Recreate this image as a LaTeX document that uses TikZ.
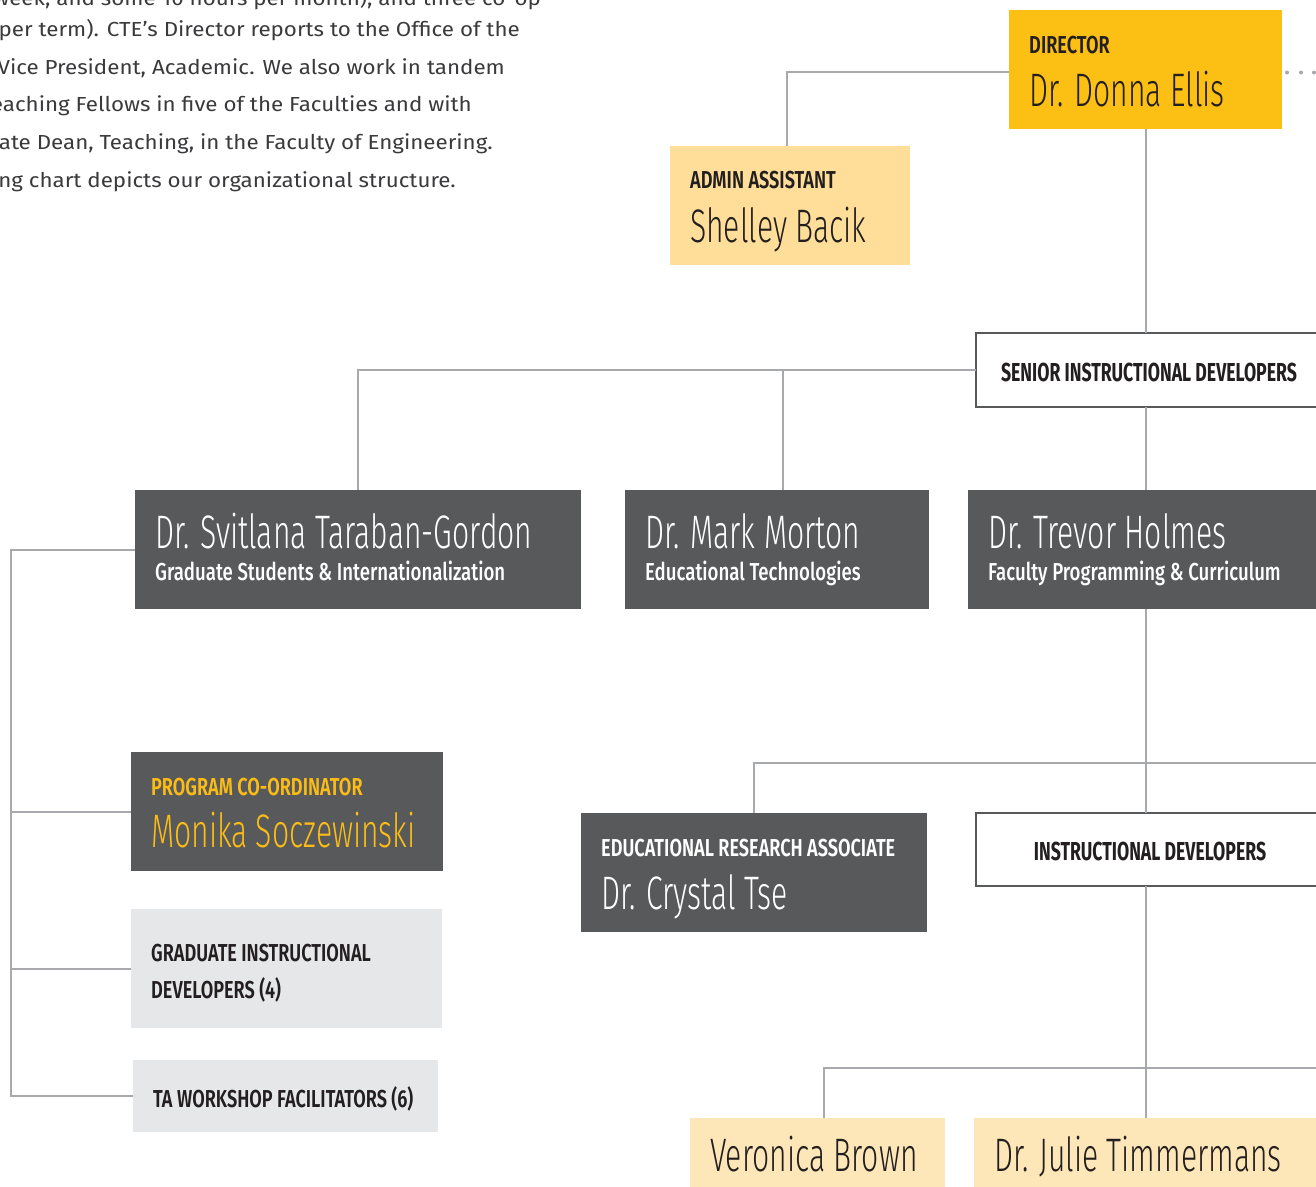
\documentclass[tikz,border=0pt]{standalone}
\usepackage{fontspec}
\setmainfont{Fira Sans}
\newfontfamily\bodyfont{Fira Sans}[FakeStretch=1.10]
\newfontfamily\lightf{Fira Sans Light}[FakeStretch=0.64]
\newfontfamily\boldf{Fira Sans}[FakeStretch=0.68]
\newfontfamily\labf{Fira Sans SemiBold}[FakeStretch=0.74]
\newfontfamily\subf{Fira Sans Medium}[FakeStretch=0.76]
\usetikzlibrary{calc}
\definecolor{cteyellow}{HTML}{FCBF14}
\definecolor{adminyellow}{HTML}{FEDE98}
\definecolor{paleyellow}{HTML}{FDE6B7}
\definecolor{dgray}{HTML}{58595B}
\definecolor{lgray}{HTML}{E6E7E8}
\definecolor{linegray}{HTML}{A7A9AC}
\definecolor{ink}{HTML}{231F20}
\definecolor{bodyink}{HTML}{3A3A3C}
\definecolor{coordyellow}{HTML}{FBBC15}
\tikzset{
  conn/.style={draw=linegray, line width=2pt},
  boxbase/.style={inner sep=0pt, outer sep=0pt, anchor=north west},
  darkbox/.style={boxbase, fill=dgray},
  yelbox/.style={boxbase, fill=cteyellow},
  admbox/.style={boxbase, fill=adminyellow},
  palebox/.style={boxbase, fill=paleyellow},
  greybox/.style={boxbase, fill=lgray},
  framebox/.style={boxbase, fill=white, draw=dgray, line width=2pt},
  tlabel/.style={inner sep=0pt, anchor=base west, font=\labf\fontsize{24.5}{26}\selectfont},
  tsub/.style={inner sep=0pt, anchor=base west, font=\subf\fontsize{24.5}{26}\selectfont},
  tname/.style={inner sep=0pt, anchor=base west, font=\lightf\fontsize{47}{50}\selectfont},
  thead/.style={inner sep=0pt, anchor=base, font=\boldf\bfseries\fontsize{26}{28}\selectfont, text=ink},
  body/.style={inner sep=0pt, anchor=base east, font=\bodyfont\fontsize{20.3}{24}\selectfont, text=bodyink}
}
\begin{document}
\begin{tikzpicture}[x=1pt,y=-1pt]
\useasboundingbox (0,0) rectangle (1316,1186);
\clip (0,0) rectangle (1316,1186);
\fill[white] (0,0) rectangle (1316,1186);

% intro text (cropped paragraph)
\node[body] (p1) at (541,5) {per week, and some 10 hours per month), and three co-op};
\node[body] (p2) at (520,36.5) {per term). CTE’s Director reports to the Office of the};
\node[body] (p3) at (505,74.2) {Vice President, Academic. We also work in tandem};
\node[body] (p4) at (472,111.8) {Teaching Fellows in five of the Faculties and with};
\node[body] (p5) at (493,149.4) {Associate Dean, Teaching, in the Faculty of Engineering.};
\node[body] (p6) at (456,187) {following chart depicts our organizational structure.};

% boxes
\node[yelbox, minimum width=273pt, minimum height=119pt] (dir) at (1009,10) {};
\node[admbox, minimum width=240pt, minimum height=119pt] (admin) at (670,146) {};
\node[framebox, minimum width=354pt, minimum height=74pt] (sen) at (976,333) {};
\node[darkbox, minimum width=446pt, minimum height=119pt] (svit) at (135,490) {};
\node[darkbox, minimum width=304pt, minimum height=119pt] (mark) at (625,490) {};
\node[darkbox, minimum width=362pt, minimum height=119pt] (trev) at (968,490) {};
\node[darkbox, minimum width=312pt, minimum height=119pt] (moni) at (131,752) {};
\node[greybox, minimum width=311pt, minimum height=119pt] (grad) at (131,909) {};
\node[greybox, minimum width=305pt, minimum height=72pt] (ta) at (133,1060) {};
\node[darkbox, minimum width=346pt, minimum height=119pt] (crys) at (581,813) {};
\node[framebox, minimum width=354pt, minimum height=73pt] (ins) at (976,813) {};
\node[palebox, minimum width=255pt, minimum height=80pt] (vero) at (690,1118) {};
\node[palebox, minimum width=356pt, minimum height=80pt] (jul) at (974,1118) {};

% texts
\node[tlabel, text=ink] (dirL) at (1029,53) {DIRECTOR};
\node[tname, text=ink] (dirN) at (1029,106) {Dr. Donna Ellis};
\node[tlabel, text=ink] (admL) at (690,188) {ADMIN ASSISTANT};
\node[tname, text=ink] (admN) at (690,242) {Shelley Bacik};
\node[thead] (senT) at (1149,381.5) {SENIOR INSTRUCTIONAL DEVELOPERS};
\node[tname, text=white] (svitN) at (155,548) {Dr. Svitlana Taraban-Gordon};
\node[tsub, text=white] (svitS) at (155,580) {Graduate Students \& Internationalization};
\node[tname, text=white] (markN) at (645,548) {Dr. Mark Morton};
\node[tsub, text=white] (markS) at (645,580) {Educational Technologies};
\node[tname, text=white] (trevN) at (988,548) {Dr. Trevor Holmes};
\node[tsub, text=white] (trevS) at (988,580) {Faculty Programming \& Curriculum};
\node[tlabel, text=coordyellow] (moniL) at (151,795) {PROGRAM CO-ORDINATOR};
\node[tname, text=coordyellow] (moniN) at (151,847) {Monika Soczewinski};
\node[tlabel, text=ink] (gradL1) at (151,961) {GRADUATE INSTRUCTIONAL};
\node[tlabel, text=ink] (gradL2) at (151,998) {DEVELOPERS (4)};
\node[tlabel, text=ink] (taL) at (153,1107) {TA WORKSHOP FACILITATORS (6)};
\node[tlabel, text=white] (crysL) at (601,856) {EDUCATIONAL RESEARCH ASSOCIATE};
\node[tname, text=white] (crysN) at (601,909) {Dr. Crystal Tse};
\node[thead] (insT) at (1150,860) {INSTRUCTIONAL DEVELOPERS};
\node[tname, text=ink] (veroN) at (710,1171) {Veronica Brown};
\node[tname, text=ink] (julN) at (994,1171) {Dr. Julie Timmermans};

% connectors
\coordinate (dirw) at ($(dir.west)+(0,2.5)$);
\coordinate (admtop) at ($(admin.north)+(-3,0)$);
\draw[conn] (dirw) -| (admtop);
\draw[conn] (dir.south) -- (dir.south |- sen.north);
\draw[conn] (sen.west) -| (svit.north);
\coordinate (mtop) at ($(mark.north west)+(158,0)$);
\draw[conn] (mtop) -- (mtop |- sen.west);
\draw[conn] (dir.south |- sen.south) -- (dir.south |- trev.north);
\draw[conn] (dir.south |- trev.south) -- (dir.south |- ins.north);
\coordinate (redge1) at (1316,763);
\draw[conn] (crys.north) |- (redge1);
\draw[conn] (dir.south |- ins.south) -- (dir.south |- jul.north);
\coordinate (vtop) at ($(vero.north west)+(134,0)$);
\coordinate (redge2) at (1316,1068);
\draw[conn] (vtop) |- (redge2);
\coordinate (lx) at (11,0);
\draw[conn] (svit.west) -| (lx |- ta.west) -- (ta.west);
\draw[conn] (lx |- moni.west) -- (moni.west);
\draw[conn] (lx |- grad.west) -- (grad.west);
\foreach \xx in {1287,1301,1314} \fill[linegray] (\xx,72.5) circle (2);
\end{tikzpicture}
\end{document}
